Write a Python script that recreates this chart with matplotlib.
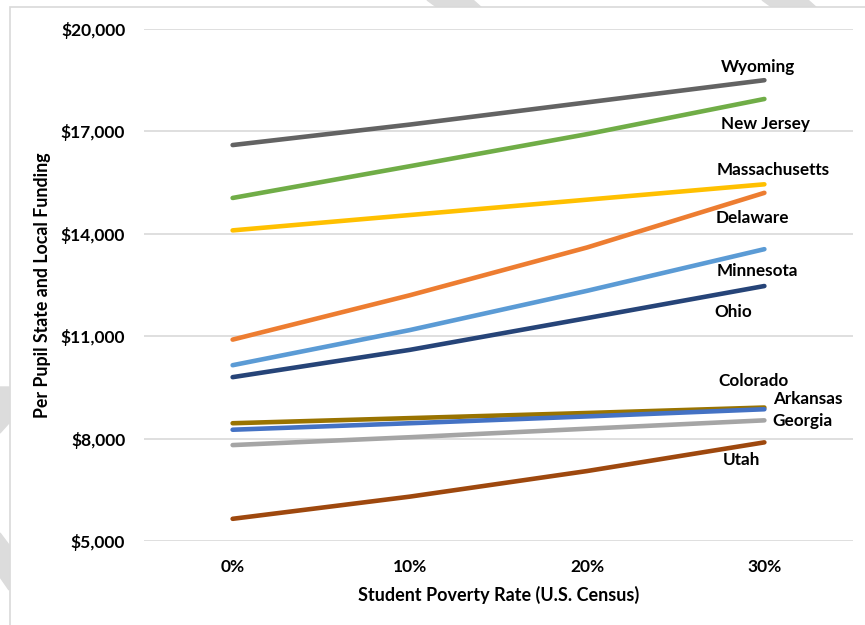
import matplotlib
matplotlib.use("Agg")
import matplotlib.pyplot as plt
from matplotlib.patches import Polygon, Rectangle
from matplotlib.ticker import FuncFormatter

plt.rcParams['font.family'] = ['Lato', 'DejaVu Sans']
plt.rcParams['font.weight'] = 'bold'

# poverty rate categories
poverty = ['0%', '10%', '20%', '30%']

# per pupil state and local funding
wyoming = [16600, 17200, 17850, 18500]
new_jersey = [15050, 15980, 16920, 17950]
massachusetts = [14100, 14550, 15000, 15450]
delaware = [10900, 12200, 13600, 15200]
minnesota = [10150, 11180, 12330, 13550]
ohio = [9800, 10600, 11530, 12470]
colorado = [8450, 8600, 8750, 8910]
arkansas = [8260, 8450, 8650, 8860]
georgia = [7810, 8040, 8290, 8535]
utah = [5650, 6300, 7050, 7890]

states = ['Wyoming', 'New Jersey', 'Massachusetts', 'Delaware', 'Minnesota',
          'Ohio', 'Colorado', 'Arkansas', 'Georgia', 'Utah']
series = [wyoming, new_jersey, massachusetts, delaware, minnesota,
          ohio, colorado, arkansas, georgia, utah]
colors = ['#636363', '#70AD47', '#FFC000', '#ED7D31', '#5B9BD5',
          '#264478', '#997300', '#4472C4', '#A5A5A5', '#9E480E']
# label offsets (pixels) from the last point
label_offsets = [(-6, 13), (1, -25), (9, 14), (-12, -25), (-7, -22),
                 (-31, -26), (-11, 27), (43, 10), (38, -1), (-23, -18)]

fig = plt.figure(figsize=(8.65, 6.25), dpi=100)

# faint watermark pieces peeking out behind the chart area (pixel coords, y from top)
for pts in [[(427, 0), (473, 0), (482, 8), (438, 8)],
            [(762, 0), (808, 0), (817, 8), (773, 8)],
            [(0, 387), (9, 387), (9, 423), (0, 433)],
            [(0, 533), (9, 545), (9, 590), (0, 577)]]:
    fig.patches.append(Polygon([(x / 865, 1 - y / 625) for x, y in pts], closed=True,
                               transform=fig.transFigure, color='#DCDCDC', zorder=0))
fig.patches.append(Rectangle((9.5 / 865, -0.01), 1.0, 618 / 625 + 0.01,
                             transform=fig.transFigure, facecolor='white',
                             edgecolor='#D9D9D9', linewidth=1.2, zorder=1))

ax = fig.add_axes([144 / 865, 84 / 625, 709 / 865, 512 / 625])
ax.set_facecolor('none')
ax.set_zorder(2)

x = list(range(len(poverty)))
for name, vals, c, off in zip(states, series, colors, label_offsets):
    ax.plot(x, vals, color=c, linewidth=3.3, solid_capstyle='round', zorder=3)
    ax.annotate(name, (x[-1], vals[-1]), xytext=off, textcoords='offset pixels',
                ha='center', va='center', fontsize=12.3, fontweight='bold', color='black')

ax.set_xlim(-0.5, 3.5)
ax.set_ylim(5000, 20000)
ax.set_xticks(x)
ax.set_xticklabels(poverty)
ax.set_yticks([5000, 8000, 11000, 14000, 17000, 20000])
ax.yaxis.set_major_formatter(FuncFormatter(lambda v, p: '${:,.0f}'.format(v)))
ax.tick_params(length=0, labelsize=12.5, pad=13)
ax.tick_params(axis='y', pad=13.5)
ax.grid(axis='y', color='#D9D9D9', linewidth=1.2)
ax.set_axisbelow(True)
for s in ax.spines.values():
    s.set_visible(False)

ax.set_xlabel('Student Poverty Rate (U.S. Census)', fontsize=13, fontweight='bold', labelpad=8)
ax.set_ylabel('Per Pupil State and Local Funding', fontsize=12.8, fontweight='bold', labelpad=7)

fig.savefig('out.png', dpi=100)
